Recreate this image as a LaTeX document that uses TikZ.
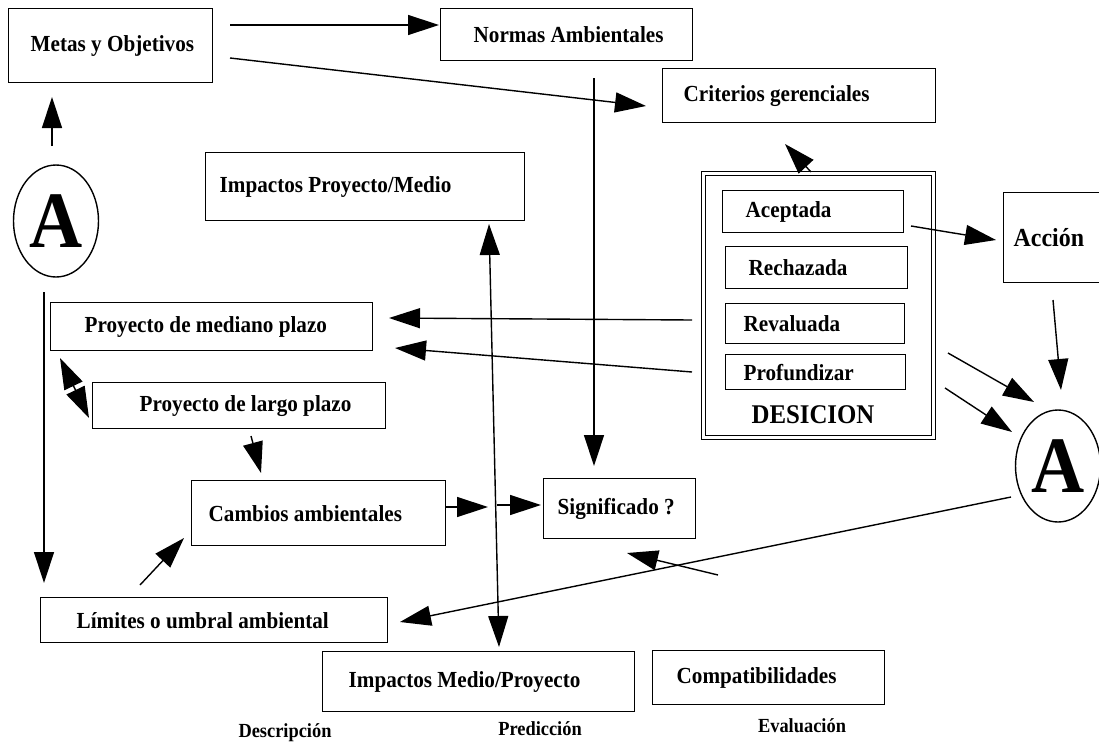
\documentclass[tikz,border=0pt]{standalone}
\usepackage{fontspec}
\setmainfont{Liberation Serif}[FakeStretch=0.92]
\usetikzlibrary{arrows.meta,shapes.geometric}
\tikzset{
  bx/.style={draw, line width=1.4pt, rectangle, anchor=north west, inner ysep=0pt,
    font=\bfseries\fontsize{23}{26}\selectfont},
  circA/.style={draw, ellipse, line width=1.4pt, minimum width=85pt, minimum height=112pt,
    inner sep=0pt, font=\bfseries\fontsize{80}{80}\selectfont},
  tip/.tip={Triangle[length=31pt,width=20pt]},
  arr/.style={line width=1.4pt, -tip},
  arrd/.style={line width=1.4pt, tip-tip},
  lbl/.style={font=\bfseries\fontsize{20}{23}\selectfont},
}
\begin{document}
\begin{tikzpicture}[x=1pt,y=-1pt]
\useasboundingbox (0,0) rectangle (1099,747);

% boxes
\node[bx, minimum height=74pt, inner xsep=22pt] (metas) at (8,8) {\makebox[160pt][l]{Metas y Objetivos}};
\node[bx, minimum height=52pt, inner xsep=33pt] (normas) at (440,8) {\makebox[186pt][l]{Normas Ambientales}};
\node[bx, minimum height=54pt, inner xsep=21pt] (criterios) at (662,68) {\makebox[231pt][l]{Criterios gerenciales}};
\node[bx, minimum height=68pt, inner xsep=14pt] (impPM) at (205,152) {\makebox[291pt][l]{Impactos Proyecto/Medio}};
\node[bx, minimum height=48pt, inner xsep=34pt] (mediano) at (50,302) {\makebox[254pt][l]{Proyecto de mediano plazo}};
\node[bx, minimum height=46pt, inner xsep=47pt] (largo) at (92,382) {\makebox[199pt][l]{Proyecto de largo plazo}};
\node[bx, minimum height=65pt, inner xsep=17pt] (cambios) at (191,480) {\makebox[220pt][l]{Cambios ambientales}};
\node[bx, minimum height=60pt, inner xsep=14pt] (signif) at (543,478) {\makebox[124pt][l]{Significado ?}};
\node[bx, minimum height=45pt, inner xsep=36pt] (limites) at (40,597) {\makebox[275pt][l]{L\'imites o umbral ambiental}};
\node[bx, minimum height=60pt, inner xsep=26pt] (impMP) at (322,651) {\makebox[260pt][l]{Impactos Medio/Proyecto}};
\node[bx, minimum height=54pt, inner xsep=24pt] (compat) at (652,650) {\makebox[184pt][l]{Compatibilidades}};
\node[bx, minimum height=90pt, inner xsep=10pt, font=\bfseries\fontsize{26}{30}\selectfont] (accion) at (1003,192) {\makebox[100pt][l]{Acci\'on}};

% decision block
\node[draw, double, double distance=2.5pt, line width=1.1pt, rectangle, anchor=north west,
      minimum width=230pt, minimum height=264pt, inner sep=0pt] (desicion) at (703,173) {};
\node[bx, minimum height=42pt, inner xsep=23pt] (acept) at (722,190) {\makebox[135pt][l]{Aceptada}};
\node[bx, minimum height=42pt, inner xsep=23pt] (rechaz) at (725,246) {\makebox[136pt][l]{Rechazada}};
\node[bx, minimum height=40pt, inner xsep=18pt] (reval) at (725,303) {\makebox[143pt][l]{Revaluada}};
\node[bx, minimum height=35pt, inner xsep=18pt] (profund) at (725,354) {\makebox[144pt][l]{Profundizar}};
\node[font=\bfseries\fontsize{27}{30}\selectfont] (destext) at (813,415) {DESICION};

% circles
\node[circA] (aleft) at (56,221) {A};
\node[circA] (aright) at (1058,466) {A};

% bottom labels
\node[lbl] (descr) at (285,733) {Descripci\'on};
\node[lbl] (pred) at (540,729) {Predicci\'on};
\node[lbl] (eval) at (802,726) {Evaluaci\'on};

% free-end coordinates
\coordinate (c1s) at (230,25);   \coordinate (c1e) at (439,25);
\coordinate (c2s) at (230,58);   \coordinate (c2e) at (646,106);
\coordinate (c3s) at (52,146);   \coordinate (c3e) at (52,97);
\coordinate (c4s) at (44,292);   \coordinate (c4e) at (44,583);
\coordinate (c5s) at (594,78);   \coordinate (c5e) at (594,466);
\coordinate (c6s) at (489,224);  \coordinate (c6e) at (499,647);
\coordinate (c7s) at (446,507);  \coordinate (c7e) at (488,507);
\coordinate (c8s) at (497,505);  \coordinate (c8e) at (541,505);
\coordinate (c9s) at (811,172);  \coordinate (c9e) at (785,144);
\coordinate (c10s) at (911,226); \coordinate (c10e) at (996,240);
\coordinate (c11s) at (1053,300);\coordinate (c11e) at (1061,390);
\coordinate (c12s) at (948,353); \coordinate (c12e) at (1034,402);
\coordinate (c13s) at (945,388); \coordinate (c13e) at (1012,432);
\coordinate (c14s) at (692,320); \coordinate (c14e) at (389,318);
\coordinate (c15s) at (692,372); \coordinate (c15e) at (395,348);
\coordinate (c16s) at (60,358);  \coordinate (c16e) at (89,418);
\coordinate (c17s) at (251,436); \coordinate (c17e) at (261,473);
\coordinate (c18s) at (140,585); \coordinate (c18e) at (184,538);
\coordinate (c19s) at (1011,497);\coordinate (c19e) at (400,622);
\coordinate (c20s) at (718,575); \coordinate (c20e) at (627,553);

% connectors
\draw[arr] (c1s) -- (c1e);
\draw[arr] (c2s) -- (c2e);
\draw[arr] (c3s) -- (c3e);
\draw[arr] (c4s) -- (c4e);
\draw[arr] (c5s) -- (c5e);
\draw[arrd] (c6s) -- (c6e);
\draw[arr] (c7s) -- (c7e);
\draw[arr] (c8s) -- (c8e);
\draw[arr] (c9s) -- (c9e);
\draw[arr] (c10s) -- (c10e);
\draw[arr] (c11s) -- (c11e);
\draw[arr] (c12s) -- (c12e);
\draw[arr] (c13s) -- (c13e);
\draw[arr] (c14s) -- (c14e);
\draw[arr] (c15s) -- (c15e);
\draw[arrd] (c16s) -- (c16e);
\draw[arr] (c17s) -- (c17e);
\draw[arr] (c18s) -- (c18e);
\draw[arr] (c19s) -- (c19e);
\draw[arr] (c20s) -- (c20e);
\end{tikzpicture}
\end{document}
